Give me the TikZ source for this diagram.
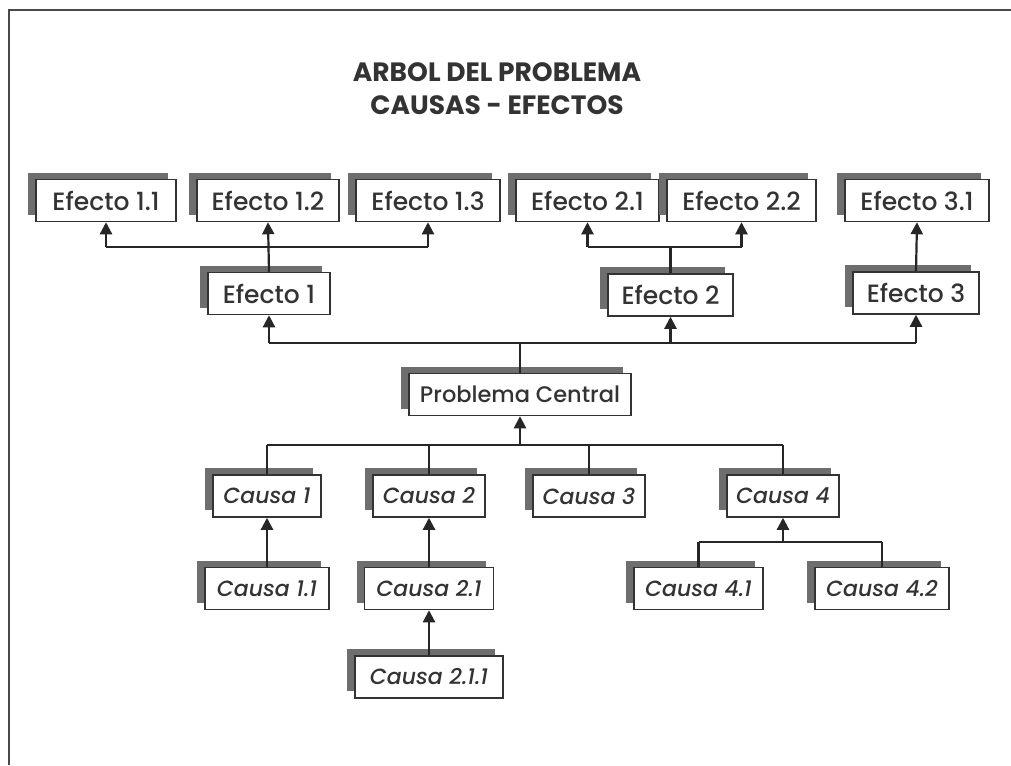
\documentclass[tikz,border=0pt]{standalone}
\usepackage{fontspec}
\setmainfont{Poppins}
\newfontfamily\boxfont{Poppins Medium}
\usetikzlibrary{shadows,arrows.meta}
\definecolor{inkgray}{HTML}{333333}
\definecolor{framegray}{HTML}{4A4A4A}
\definecolor{shadegray}{HTML}{6E6E6E}
\tikzset{
  tbox/.style={draw=inkgray, line width=1.5pt, fill=white, text=inkgray,
    minimum height=42pt, inner sep=0pt, font=\boxfont\fontsize{25}{29}\selectfont,
    general shadow={fill=shadegray, shadow xshift=-8pt, shadow yshift=7pt}},
  cbox/.style={tbox, font=\boxfont\fontsize{22}{26}\selectfont\itshape},
  conn/.style={draw=black!85, line width=2.2pt},
  arr/.style={conn, -{Triangle[width=12pt,length=12pt]}},
  title/.style={text=inkgray, font=\fontsize{26.5}{31}\selectfont\bfseries, align=center}
}
\begin{document}
\begin{tikzpicture}[x=1pt,y=-1pt]
\useasboundingbox (0,0) rectangle (1011,765);
\fill[white] (0,0) rectangle (1011,765);
% outer frame: only the top and left edges are visible
\draw[framegray, line width=2pt] (9,765) -- (9,10) -- (1011,10);

% title
\node[title] (t1) at (497,72) {ARBOL DEL PROBLEMA};
\node[title] (t2) at (497,105) {CAUSAS - EFECTOS};

% effects, second level
\node[tbox, minimum width=140pt] (ef11) at (106,200.5) {Efecto 1.1};
\node[tbox, minimum width=142pt] (ef12) at (268,200.5) {Efecto 1.2};
\node[tbox, minimum width=144pt] (ef13) at (428,200.5) {Efecto 1.3};
\node[tbox, minimum width=143pt] (ef21) at (587.5,200.5) {Efecto 2.1};
\node[tbox, minimum width=149pt] (ef22) at (741.5,200.5) {Efecto 2.2};
\node[tbox, minimum width=144pt] (ef31) at (917,200.5) {Efecto 3.1};

% effects, first level
\node[tbox, minimum width=122pt] (ef1) at (269,293.5) {Efecto 1};
\node[tbox, minimum width=125pt] (ef2) at (670.5,295) {Efecto 2};
\node[tbox, minimum width=126pt] (ef3) at (916,293) {Efecto 3};

% central problem
\node[tbox, minimum width=222pt, font=\boxfont\fontsize{22.5}{26}\selectfont] (pc) at (520,394.5) {Problema Central};

% causes
\node[cbox, minimum width=108pt] (c1) at (267,496) {Causa 1};
\node[cbox, minimum width=112pt] (c2) at (429,496) {Causa 2};
\node[cbox, minimum width=112pt] (c3) at (589,496) {Causa 3};
\node[cbox, minimum width=112pt] (c4) at (783,496) {Causa 4};

\node[cbox, minimum width=124pt] (c11) at (267,588.5) {Causa 1.1};
\node[cbox, minimum width=129pt] (c21) at (429,588.5) {Causa 2.1};
\node[cbox, minimum width=129pt] (c41) at (698.5,588.5) {Causa 4.1};
\node[cbox, minimum width=134pt] (c42) at (882,588.5) {Causa 4.2};

\node[cbox, minimum width=148pt] (c211) at (429,677) {Causa 2.1.1};

% bus levels
\coordinate (busA) at (0,247);
\coordinate (busB) at (0,343);
\coordinate (busC) at (0,445);
\coordinate (busD) at (0,542);

% Efecto 1 -> 1.1, 1.2, 1.3
\draw[conn] (ef11.south |- busA) -- (ef13.south |- busA);
\draw[arr] (ef1.north) -- (ef12.south);
\draw[arr] (ef11.south |- busA) -- (ef11.south);
\draw[arr] (ef13.south |- busA) -- (ef13.south);

% Efecto 2 -> 2.1, 2.2
\draw[conn] (ef2.north) -- (ef2.north |- busA);
\draw[conn] (ef21.south |- busA) -- (ef22.south |- busA);
\draw[arr] (ef21.south |- busA) -- (ef21.south);
\draw[arr] (ef22.south |- busA) -- (ef22.south);

% Efecto 3 -> 3.1
\draw[arr] (ef3.north) -- (ef31.south);

% Problema Central -> effects
\draw[conn] (pc.north) -- (pc.north |- busB);
\draw[conn] (ef1.south |- busB) -- (ef3.south |- busB);
\draw[arr] (ef1.south |- busB) -- (ef1.south);
\draw[arr] (ef2.south |- busB) -- (ef2.south);
\draw[arr] (ef3.south |- busB) -- (ef3.south);

% causes -> Problema Central
\draw[conn] (c1.north |- busC) -- (c4.north |- busC);
\draw[arr] (pc.south |- busC) -- (pc.south);
\draw[conn] (c1.north) -- (c1.north |- busC);
\draw[conn] (c2.north) -- (c2.north |- busC);
\draw[conn] (c3.north) -- (c3.north |- busC);
\draw[conn] (c4.north) -- (c4.north |- busC);

% sub-causes
\draw[arr] (c11.north) -- (c1.south);
\draw[arr] (c21.north) -- (c2.south);
\draw[arr] (c211.north) -- (c21.south);
\draw[conn] (c41.north |- busD) -- (c42.north |- busD);
\draw[conn] (c41.north) -- (c41.north |- busD);
\draw[conn] (c42.north) -- (c42.north |- busD);
\draw[arr] (c4.south |- busD) -- (c4.south);
\end{tikzpicture}
\end{document}
